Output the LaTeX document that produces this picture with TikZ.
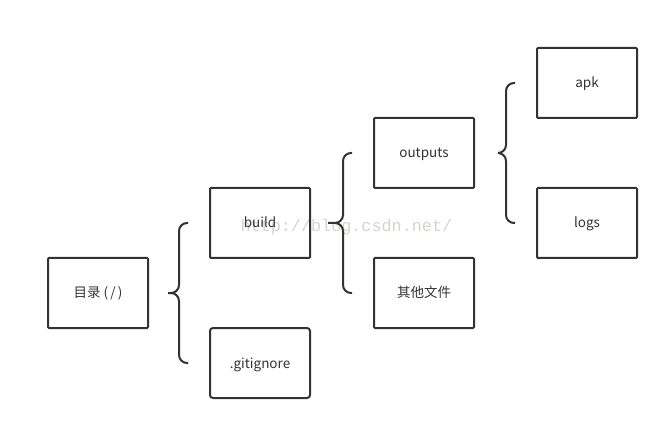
\documentclass[tikz,border=0pt]{standalone}
\usepackage{fontspec}
\setmainfont{Noto Sans CJK SC}
\newfontfamily\markfont{Liberation Mono}
\usetikzlibrary{calc}
\definecolor{inkgray}{HTML}{333333}
\definecolor{markgray}{HTML}{D6D3CF}
\tikzset{
	entry/.style={draw=inkgray, line width=2pt, rounded corners=1pt, minimum width=100pt, minimum height=70pt, inner sep=0pt, text height=13pt, text depth=3pt, text=inkgray, font=\fontsize{13.5}{14}\selectfont},
	curlyline/.style={draw=inkgray, line width=2pt, rounded corners=8pt},
}
% brace from a parent box to its two children, #1 = gap after the parent
\newcommand\branch[4][19]{%
	\draw[curlyline] let \p1=($(#2.east)+(#1,0)$), \p2=($(#3.west)+(-21,0)$), \p3=($(#4.west)+(-21,0)$) in
		(\p1) -- (\x2-9,\y1) -- (\x2-9,\y2) -- (\p2)
		(\p1) -- (\x2-9,\y1) -- (\x2-9,\y3) -- (\p3);
}

\begin{document}
\begin{tikzpicture}[x=1pt, y=-1pt]
		\useasboundingbox (0,0) rectangle (669,430);
		\node[text=markgray, font=\markfont\fontsize{16.8}{17}\selectfont, anchor=base west] (mark) at (237,232) {http://blog.csdn.net/};
		\node[entry] (root) at (98,293) {目录 (\,/\,)};
		\node[entry] (build) at (260,223) {build};
		\node[entry, rounded corners=3pt] (ignore) at (260,363) {.gitignore};
		\node[entry] (outputs) at (424,153) {outputs};
		\node[entry] (others) at (424,293) {其他文件};
		\node[entry] (apk) at (587,83) {apk};
		\node[entry] (logs) at (587,223) {logs};
		\branch{root}{build}{ignore}
		\branch[17]{build}{outputs}{others}
		\branch[23]{outputs}{apk}{logs}
	\end{tikzpicture}
\end{document}
